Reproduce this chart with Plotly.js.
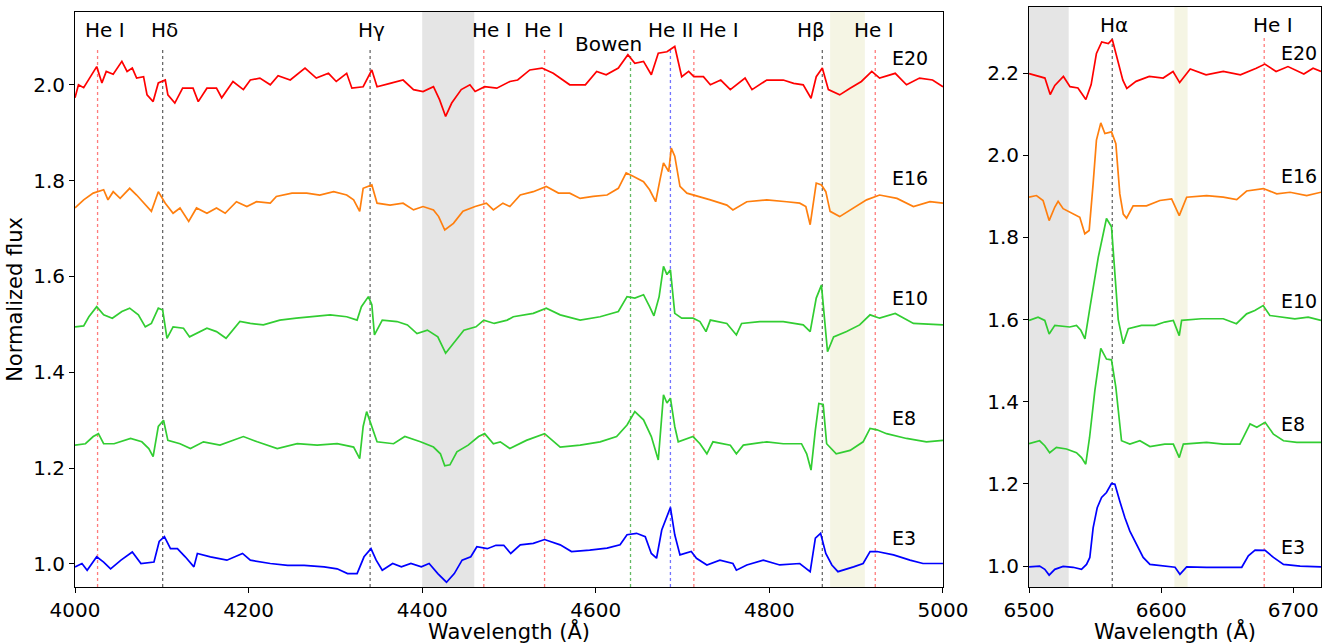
<!DOCTYPE html>
<html>
<head>
<meta charset="utf-8">
<script src="https://cdn.plot.ly/plotly-3.0.1.min.js"></script>
<style>html,body{margin:0;padding:0;background:#fff;}#chart{width:1332px;height:644px;}</style>
</head>
<body>
<div id="chart"></div>
<script>
// ---------------- DATA: left panel (4000-5000 A) ----------------
const wlE20 = [4000,4004,4010,4017,4025,4031,4036,4044,4054,4060,4066,4071,4079,4083,4090,4096,4104,4107,4115,4124,4136,4142,4152,4163,4169,4182,4194,4202,4213,4225,4234,4248,4265,4278,4292,4301,4313,4319,4332,4342,4348,4363,4378,4390,4401,4413,4420,4427,4434,4445,4455,4461,4472,4486,4501,4510,4524,4538,4551,4570,4588,4601,4612,4626,4637,4645,4655,4664,4672,4682,4691,4699,4707,4713,4724,4732,4744,4755,4772,4780,4797,4816,4828,4839,4848,4854,4861,4868,4881,4893,4906,4918,4927,4945,4958,4973,4988,5000];
const fxE20 = [1.973,2.000,1.994,2.015,2.038,2.004,2.028,2.022,2.049,2.028,2.035,2.014,2.017,1.979,1.965,2.004,2.010,1.979,1.962,1.993,1.993,1.965,1.993,1.993,1.973,2.007,1.990,2.010,2.014,2.000,2.019,2.010,2.035,2.014,2.024,2.007,2.024,1.993,1.996,2.031,1.996,2.003,2.010,1.990,1.986,1.996,1.969,1.934,1.962,1.990,2.000,1.986,1.996,1.993,2.007,2.010,2.031,2.035,2.024,2.000,2.000,2.028,2.021,2.035,2.063,2.045,2.049,2.021,2.066,2.069,2.080,2.017,2.028,2.017,2.017,2.000,2.010,1.990,2.014,1.990,2.010,2.010,2.003,2.000,1.972,2.017,2.035,1.990,1.979,1.993,2.007,2.028,2.014,2.024,2.000,2.014,2.010,1.996];

const wlE16 = [4000,4010,4021,4033,4038,4044,4052,4063,4071,4079,4088,4096,4104,4113,4121,4131,4140,4152,4163,4173,4186,4198,4209,4225,4232,4250,4267,4282,4298,4313,4321,4328,4332,4342,4348,4363,4378,4390,4401,4413,4419,4426,4436,4447,4461,4474,4482,4493,4501,4513,4528,4543,4557,4570,4582,4597,4613,4626,4635,4643,4655,4662,4669,4674,4678,4684,4687,4691,4697,4705,4720,4732,4751,4758,4774,4797,4820,4835,4842,4847,4854,4860,4865,4870,4881,4897,4912,4927,4947,4966,4985,5000];
const fxE16 = [1.743,1.760,1.774,1.781,1.760,1.777,1.763,1.784,1.770,1.753,1.736,1.777,1.753,1.732,1.743,1.715,1.743,1.732,1.743,1.732,1.756,1.746,1.756,1.753,1.767,1.774,1.774,1.770,1.777,1.770,1.760,1.736,1.784,1.791,1.753,1.749,1.753,1.739,1.746,1.739,1.725,1.697,1.711,1.736,1.746,1.753,1.739,1.753,1.746,1.770,1.777,1.788,1.774,1.774,1.763,1.767,1.770,1.784,1.816,1.809,1.798,1.781,1.756,1.802,1.837,1.819,1.868,1.851,1.788,1.774,1.767,1.760,1.749,1.739,1.756,1.760,1.756,1.753,1.746,1.708,1.795,1.791,1.777,1.736,1.725,1.743,1.760,1.770,1.763,1.746,1.756,1.753];

const wlE10 = [4000,4010,4016,4025,4033,4043,4054,4063,4073,4081,4088,4096,4101,4106,4113,4125,4132,4144,4152,4163,4174,4190,4202,4217,4236,4255,4275,4294,4313,4325,4330,4338,4342,4345,4354,4371,4383,4394,4406,4418,4427,4437,4448,4462,4471,4483,4498,4505,4528,4543,4559,4582,4605,4626,4636,4645,4655,4662,4667,4673,4678,4682,4686,4691,4699,4712,4720,4727,4732,4751,4762,4768,4789,4816,4839,4847,4854,4860,4863,4867,4874,4889,4904,4916,4927,4945,4966,5000];
const fxE10 = [1.495,1.497,1.516,1.537,1.520,1.513,1.527,1.534,1.520,1.495,1.502,1.534,1.530,1.471,1.495,1.492,1.474,1.485,1.492,1.485,1.471,1.506,1.502,1.499,1.509,1.513,1.516,1.520,1.516,1.509,1.537,1.558,1.541,1.478,1.509,1.506,1.499,1.481,1.488,1.474,1.440,1.464,1.488,1.495,1.509,1.502,1.509,1.516,1.523,1.534,1.520,1.509,1.516,1.527,1.558,1.555,1.562,1.537,1.518,1.558,1.621,1.604,1.614,1.523,1.513,1.513,1.506,1.485,1.509,1.502,1.478,1.502,1.506,1.506,1.499,1.485,1.555,1.582,1.516,1.443,1.474,1.485,1.499,1.520,1.513,1.523,1.502,1.499];

const wlE8 = [4000,4012,4021,4027,4033,4045,4064,4077,4085,4090,4096,4102,4107,4121,4133,4148,4167,4194,4210,4233,4256,4279,4302,4321,4328,4332,4336,4342,4348,4367,4380,4398,4413,4421,4426,4432,4440,4453,4465,4472,4482,4490,4501,4520,4541,4559,4582,4605,4624,4636,4645,4655,4664,4672,4678,4682,4686,4691,4695,4712,4720,4728,4735,4755,4762,4770,4797,4816,4837,4843,4848,4853,4857,4862,4866,4877,4893,4908,4916,4924,4935,4958,4981,5000];
const fxE8 = [1.248,1.251,1.266,1.272,1.251,1.251,1.262,1.255,1.241,1.224,1.287,1.300,1.258,1.251,1.241,1.255,1.248,1.266,1.255,1.241,1.251,1.248,1.251,1.244,1.220,1.287,1.318,1.287,1.255,1.251,1.266,1.255,1.244,1.230,1.205,1.207,1.234,1.248,1.266,1.272,1.251,1.255,1.241,1.258,1.272,1.244,1.248,1.255,1.266,1.290,1.318,1.301,1.266,1.217,1.353,1.336,1.346,1.287,1.255,1.266,1.251,1.230,1.255,1.248,1.230,1.248,1.255,1.251,1.251,1.230,1.196,1.280,1.335,1.333,1.251,1.230,1.237,1.255,1.283,1.280,1.272,1.262,1.255,1.258];

const wlE3 = [4000,4008,4014,4025,4033,4041,4053,4066,4076,4091,4097,4103,4110,4118,4127,4137,4141,4156,4175,4193,4202,4225,4245,4264,4287,4302,4314,4325,4333,4341,4347,4354,4366,4376,4387,4399,4408,4418,4428,4437,4446,4456,4463,4475,4485,4494,4502,4513,4528,4541,4559,4572,4593,4613,4628,4636,4647,4657,4664,4670,4676,4682,4686,4691,4697,4710,4716,4728,4743,4758,4762,4774,4793,4812,4835,4847,4853,4859,4865,4872,4879,4897,4908,4916,4924,4943,4962,4977,5000];
const fxE3 = [0.994,1.001,0.987,1.015,1.004,0.990,1.008,1.025,1.001,1.004,1.047,1.057,1.032,1.032,1.015,0.994,1.022,1.015,1.008,1.022,1.008,1.001,0.997,0.997,0.994,0.990,0.980,0.980,1.015,1.032,1.008,0.987,1.001,0.994,1.001,0.994,1.001,0.980,0.962,0.980,1.008,1.015,1.036,1.032,1.039,1.039,1.022,1.040,1.043,1.051,1.040,1.026,1.029,1.033,1.040,1.061,1.064,1.057,1.022,1.012,1.071,1.102,1.118,1.061,1.019,1.026,1.012,0.998,1.008,1.001,0.987,0.998,1.008,0.998,1.001,0.984,1.054,1.064,1.022,0.998,0.984,0.994,1.001,1.026,1.026,1.019,1.008,1.001,1.001];

// ---------------- DATA: right panel (6500-6720 A) ----------------
const wlE20R = [6500,6508,6512,6516,6519.5,6526,6531,6537,6543,6547,6551,6555,6560,6563,6567,6571,6574,6581,6591,6601.5,6609,6614,6622,6634,6647,6660,6672,6678.5,6687,6696,6708,6715,6721];
const fxE20R = [2.199,2.192,2.188,2.148,2.170,2.192,2.167,2.164,2.136,2.172,2.248,2.276,2.272,2.282,2.232,2.183,2.163,2.180,2.192,2.188,2.204,2.177,2.210,2.196,2.204,2.196,2.212,2.222,2.204,2.216,2.198,2.212,2.204];

const wlE16R = [6500,6505.6,6510.6,6515.2,6519.5,6522,6525.8,6530.8,6538.4,6542.2,6545.5,6548.5,6551,6554.3,6557.4,6562.4,6565.7,6568.7,6571.3,6573.8,6578.8,6588.9,6599,6607.9,6613.7,6619.3,6634.4,6647,6657.2,6664.7,6677.4,6687.5,6697.6,6710.2,6721];
const fxE16R = [1.898,1.902,1.890,1.841,1.874,1.888,1.870,1.861,1.849,1.809,1.817,1.931,2.037,2.079,2.053,2.057,2.028,1.906,1.857,1.847,1.877,1.877,1.890,1.894,1.853,1.898,1.902,1.898,1.892,1.913,1.919,1.906,1.910,1.902,1.910];

const wlE10R = [6500,6506.8,6511.9,6515.2,6519.5,6525.8,6530.8,6535.9,6539.2,6542.3,6544.8,6546.1,6552.4,6558.6,6562.4,6565.7,6567.5,6571.3,6575.1,6585.1,6595.2,6602.7,6609.2,6613.7,6615.5,6630.6,6647,6657,6664.7,6670.9,6677.2,6682.3,6691.1,6701.2,6711.3,6721];
const fxE10R = [1.598,1.606,1.598,1.565,1.586,1.583,1.582,1.586,1.574,1.553,1.606,1.630,1.752,1.846,1.826,1.687,1.600,1.541,1.578,1.586,1.586,1.594,1.598,1.561,1.598,1.602,1.602,1.590,1.614,1.622,1.634,1.610,1.606,1.602,1.606,1.598];

const wlE8R = [6500,6508,6511.9,6515.6,6520.7,6528.3,6535.9,6539.7,6542.9,6545.8,6549.8,6554.3,6558.6,6562.4,6565.7,6570,6576.3,6583.9,6591.5,6602.7,6609.2,6613.7,6616.8,6634.4,6647,6659.6,6662.2,6667.3,6672.4,6678.7,6685,6692.6,6702.7,6712.8,6721];
const fxE8R = [1.298,1.305,1.293,1.276,1.289,1.285,1.276,1.264,1.248,1.313,1.427,1.530,1.504,1.502,1.435,1.305,1.297,1.305,1.291,1.297,1.297,1.264,1.297,1.301,1.297,1.297,1.313,1.346,1.338,1.350,1.321,1.305,1.301,1.301,1.301];

const wlE3R = [6500,6508,6511.9,6515.2,6519.5,6525.8,6533.3,6539.7,6543.5,6546,6548.5,6551.6,6554.9,6558.6,6562.4,6565,6568.7,6572.5,6576.3,6581.4,6586.4,6591.5,6601.6,6610.5,6614.2,6619.3,6634.4,6647,6661,6666,6671.1,6678.7,6685,6692.6,6705.2,6721];
const fxE3R = [0.998,1.000,0.992,0.978,0.992,0.999,0.997,0.992,1.004,1.021,1.093,1.142,1.167,1.179,1.201,1.199,1.158,1.118,1.085,1.053,1.021,1.004,1.000,0.997,0.980,0.998,0.997,0.997,0.997,1.025,1.039,1.038,1.021,1.004,1.000,0.998];

// series names
const seriesNames = ['E20','E16','E10','E8','E3'];

// line identifications
const lineWlL = [4026,4101,4340,4471,4541,4640,4686,4713,4861,4922];
const lineKindL = ['HeI','H','H','HeI','HeI','Bowen','HeII','HeI','H','HeI'];
const lineLabelL = ['He I','Hδ','Hγ','He I','He I','Bowen','He II','He I','Hβ','He I'];
const labelWlL = [4035,4103.5,4342,4480,4540,4615,4687,4742,4848,4921];
const lineWlR = [6563,6678];
const lineKindR = ['H','HeI'];
const lineLabelR = ['Hα','He I'];
const labelWlR = [6564,6684.5];

// shaded bands
const grayBandL = [4400,4460], yelBandL = [4870,4910];
const grayBandR = [6500,6530], yelBandR = [6610,6620];

// ---------------- STYLES ----------------
const colors = {E20:'#ff0000',E16:'#ff7f0e',E10:'#32cd32',E8:'#32cd32',E3:'#0000ff'};
const kindColor = {HeI:'rgba(255,80,80,0.75)',H:'rgba(90,90,90,0.9)',Bowen:'rgba(60,170,60,0.8)',HeII:'rgba(80,80,255,0.8)'};
const FONT = 'DejaVu Sans, Verdana, sans-serif';
const yL = [0.952,2.152], yR = [0.949,2.361];

const leftData = [[wlE20,fxE20],[wlE16,fxE16],[wlE10,fxE10],[wlE8,fxE8],[wlE3,fxE3]];
const rightData = [[wlE20R,fxE20R],[wlE16R,fxE16R],[wlE10R,fxE10R],[wlE8R,fxE8R],[wlE3R,fxE3R]];

const traces = [];
seriesNames.forEach((n,i)=>{
  traces.push({x:leftData[i][0],y:leftData[i][1],type:'scatter',mode:'lines',name:n,
    line:{color:colors[n],width:1.7},xaxis:'x',yaxis:'y',hoverinfo:'x+y'});
  traces.push({x:rightData[i][0],y:rightData[i][1],type:'scatter',mode:'lines',name:n,
    line:{color:colors[n],width:1.7},xaxis:'x2',yaxis:'y2',hoverinfo:'x+y',showlegend:false});
});

const shapes = [];
function band(xr,xa,ya,col){
  shapes.push({type:'rect',xref:xa,yref:ya+' domain',x0:xr[0],x1:xr[1],y0:0,y1:1,
    fillcolor:col,line:{width:0},layer:'below'});
}
band(grayBandL,'x','y','#e5e5e5');
band(yelBandL,'x','y','#f5f5e4');
band(grayBandR,'x2','y2','#e5e5e5');
band(yelBandR,'x2','y2','#f5f5e4');

lineWlL.forEach((w,i)=>{
  shapes.push({type:'line',xref:'x',yref:'y',x0:w,x1:w,y0:yL[0],y1:lineKindL[i]==='Bowen'?2.066:2.073,
    line:{color:kindColor[lineKindL[i]],width:1.3,dash:'dot'},layer:'below'});
});
lineWlR.forEach((w,i)=>{
  shapes.push({type:'line',xref:'x2',yref:'y2',x0:w,x1:w,y0:yR[0],y1:2.289,
    line:{color:kindColor[lineKindR[i]],width:1.3,dash:'dot'},layer:'below'});
});

const annotations = [];
lineLabelL.forEach((t,i)=>{
  annotations.push({x:labelWlL[i],y:lineKindL[i]==='Bowen'?2.086:2.115,xref:'x',yref:'y',text:t,showarrow:false,
    xanchor:'center',yanchor:'middle',font:{family:FONT,size:20,color:'#000'}});
});
lineLabelR.forEach((t,i)=>{
  annotations.push({x:labelWlR[i],y:2.318,xref:'x2',yref:'y2',text:t,showarrow:false,
    xanchor:'center',yanchor:'middle',font:{family:FONT,size:20,color:'#000'}});
});
const tagYL = [2.056,1.806,1.556,1.305,1.054];
const tagYR = [2.249,1.949,1.646,1.346,1.046];
seriesNames.forEach((n,i)=>{
  annotations.push({x:4939,y:tagYL[i],xref:'x',yref:'y',text:n,showarrow:false,xanchor:'left',yanchor:'middle',
    font:{family:FONT,size:19,color:'#000'}});
  annotations.push({x:6689,y:tagYR[i],xref:'x2',yref:'y2',text:n,showarrow:false,xanchor:'left',yanchor:'middle',
    font:{family:FONT,size:19,color:'#000'}});
});

const axBase = {showgrid:false,zeroline:false,showline:true,mirror:true,linecolor:'#000',linewidth:1,
  ticks:'outside',ticklen:5,tickwidth:1,tickcolor:'#000',tickfont:{family:FONT,size:20,color:'#000'}};

const layout = {
  width:1332,height:644,margin:{l:75,r:11,t:7,b:57},
  paper_bgcolor:'#fff',plot_bgcolor:'#fff',showlegend:false,
  font:{family:FONT,color:'#000'},
  xaxis:Object.assign({},axBase,{domain:[0,0.6966],range:[4000,5000],tickvals:[4000,4200,4400,4600,4800,5000],anchor:'y',
    title:{text:'Wavelength (Å)',font:{family:FONT,size:21},standoff:4}}),
  yaxis:Object.assign({},axBase,{domain:[0,0.9914],range:yL,tickvals:[1.0,1.2,1.4,1.6,1.8,2.0],
    ticktext:['1.0','1.2','1.4','1.6','1.8','2.0'],anchor:'x',
    title:{text:'Normalized flux',font:{family:FONT,size:21},standoff:4}}),
  xaxis2:Object.assign({},axBase,{domain:[0.7657,1],range:[6500,6721],tickvals:[6500,6600,6700],anchor:'y2',
    title:{text:'Wavelength (Å)',font:{family:FONT,size:21},standoff:4}}),
  yaxis2:Object.assign({},axBase,{domain:[0,1],range:yR,tickvals:[1.0,1.2,1.4,1.6,1.8,2.0,2.2],
    ticktext:['1.0','1.2','1.4','1.6','1.8','2.0','2.2'],anchor:'x2'}),
  shapes:shapes,annotations:annotations
};

Plotly.newPlot('chart',traces,layout,{staticPlot:true,displayModeBar:false});
</script>
</body>
</html>
